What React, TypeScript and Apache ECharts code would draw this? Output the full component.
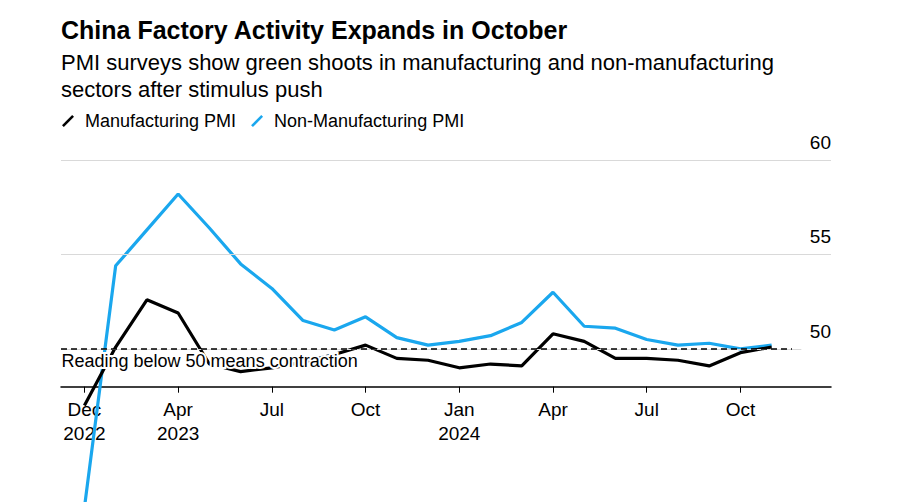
import React, { useEffect, useRef } from "react";
import * as echarts from "echarts";

const months = [
  "Dec 2022", "Jan 2023", "Feb 2023", "Mar 2023", "Apr 2023", "May 2023", "Jun 2023",
  "Jul 2023", "Aug 2023", "Sep 2023", "Oct 2023", "Nov 2023", "Dec 2023", "Jan 2024",
  "Feb 2024", "Mar 2024", "Apr 2024", "May 2024", "Jun 2024", "Jul 2024", "Aug 2024",
  "Sep 2024", "Oct 2024",
];

const manufacturing = [
  47.0, 50.1, 52.6, 51.9, 49.2, 48.8, 49.0, 49.3, 49.7, 50.2, 49.5, 49.4, 49.0, 49.2,
  49.1, 50.8, 50.4, 49.5, 49.5, 49.4, 49.1, 49.8, 50.1,
];

const nonManufacturing = [
  41.6, 54.4, 56.3, 58.2, 56.4, 54.5, 53.2, 51.5, 51.0, 51.7, 50.6, 50.2, 50.4, 50.7,
  51.4, 53.0, 51.2, 51.1, 50.5, 50.2, 50.3, 50.0, 50.2,
];

const tickLabels = [
  "Dec\n2022", "", "", "Apr\n2023", "", "", "Jul", "", "", "Oct", "", "",
  "Jan\n2024", "", "", "Apr", "", "", "Jul", "", "", "Oct", "",
];

const yTickValues = [50, 55, 60];
const gridValues = [55, 60];
const contractionLevel = 50;

const FONT = "'Liberation Sans', Arial, Helvetica, sans-serif";
const BLUE = "#1AA7EE";

export default function App() {
  const ref = useRef<HTMLDivElement>(null);

  useEffect(() => {
    if (!ref.current) return;
    const chart = echarts.init(ref.current, undefined, { renderer: "svg" });
    const tickIdx = tickLabels.map((l, i) => (l ? i : -1)).filter((i) => i >= 0);
    const xMin = -0.75;
    const xMax = 23.9;

    const option: any = {
      animation: false,
      backgroundColor: "#fff",
      textStyle: { fontFamily: FONT },
      title: {
        left: 61,
        top: 15,
        text: "China Factory Activity Expands in October",
        textStyle: { fontSize: 25, fontWeight: "bold", color: "#000", lineHeight: 30, fontFamily: FONT },
        subtext: "PMI surveys show green shoots in manufacturing and non-manufacturing\nsectors after stimulus push",
        subtextStyle: { fontSize: 22, color: "#000", lineHeight: 27, fontFamily: FONT },
        itemGap: 4,
        padding: 0,
      },
      legend: {
        left: 62,
        top: 111,
        padding: 0,
        itemWidth: 12,
        itemHeight: 12,
        itemGap: 15,
        icon: "path://M0,11 L2,13 L13,2 L11,0 Z",
        textStyle: { fontSize: 18, color: "#000", fontFamily: FONT, lineHeight: 20, padding: [0, 0, 0, 6] },
        data: ["Manufacturing PMI", "Non-Manufacturing PMI"],
      },
      grid: { left: 61, right: 67, top: 160, bottom: 115.3, containLabel: false },
      xAxis: {
        type: "value",
        min: xMin,
        max: xMax,
        position: "bottom",
        splitLine: { show: false },
        axisLine: { show: true, onZero: false, lineStyle: { color: "#000", width: 1.5 } },
        axisTick: {
          show: true,
          length: 6,
          customValues: tickIdx,
          lineStyle: { color: "#000", width: 1 },
        },
        axisLabel: {
          customValues: tickIdx,
          formatter: (v: number) => tickLabels[Math.round(v)] || "",
          fontSize: 19,
          color: "#000",
          lineHeight: 24,
          margin: 11,
          fontFamily: FONT,
        },
      },
      yAxis: {
        type: "value",
        min: 48,
        max: 60,
        position: "right",
        splitLine: { show: false },
        axisLine: { show: false },
        axisTick: { show: false },
        axisLabel: {
          customValues: yTickValues,
          inside: true,
          margin: 0,
          align: "right",
          verticalAlign: "bottom",
          lineHeight: 35,
          fontSize: 19,
          color: "#000",
          fontFamily: FONT,
        },
      },
      series: [
        {
          type: "line",
          name: "grid",
          data: [],
          z: 1,
          silent: true,
          markLine: {
            silent: true,
            symbol: "none",
            label: { show: false },
            data: [
              ...gridValues.map((v) => ({ yAxis: v, lineStyle: { color: "#d9d9d9", width: 1.2, type: "solid" } })),
              [
                { coord: [xMin, contractionLevel], lineStyle: { color: "#d9d9d9", width: 1.2, type: "solid" } },
                { coord: [22.95, contractionLevel] },
              ],
              [
                { coord: [xMin, contractionLevel], lineStyle: { color: "#000", width: 1.6, type: [6, 4] } },
                { coord: [22.65, contractionLevel] },
              ],
            ],
          },
        },
        {
          type: "line",
          name: "Non-Manufacturing PMI",
          data: months.map((_, i) => [i, nonManufacturing[i]]),
          showSymbol: false,
          symbol: "none",
          clip: false,
          z: 3,
          color: BLUE,
          lineStyle: { color: BLUE, width: 3.2 },
        },
        {
          type: "line",
          name: "Manufacturing PMI",
          data: months.map((_, i) => [i, manufacturing[i]]),
          showSymbol: false,
          symbol: "none",
          clip: false,
          z: 4,
          color: "#000",
          lineStyle: { color: "#000", width: 3.2 },
        },
      ],
      graphic: [
        {
          type: "text",
          z: 100,
          x: 61.5,
          y: 360.7,
          style: {
            text: "Reading below 50 means contraction",
            font: `18px ${FONT}`,
            fill: "#000",
            stroke: "#fff",
            lineWidth: 4,
            align: "left",
            verticalAlign: "middle",
          },
        },
      ],
    };

    chart.setOption(option);
    return () => chart.dispose();
  }, []);

  return (
    <div
      ref={ref}
      style={{ position: "fixed", left: 0, top: 0, width: 898, height: 502, background: "#fff" }}
    />
  );
}
